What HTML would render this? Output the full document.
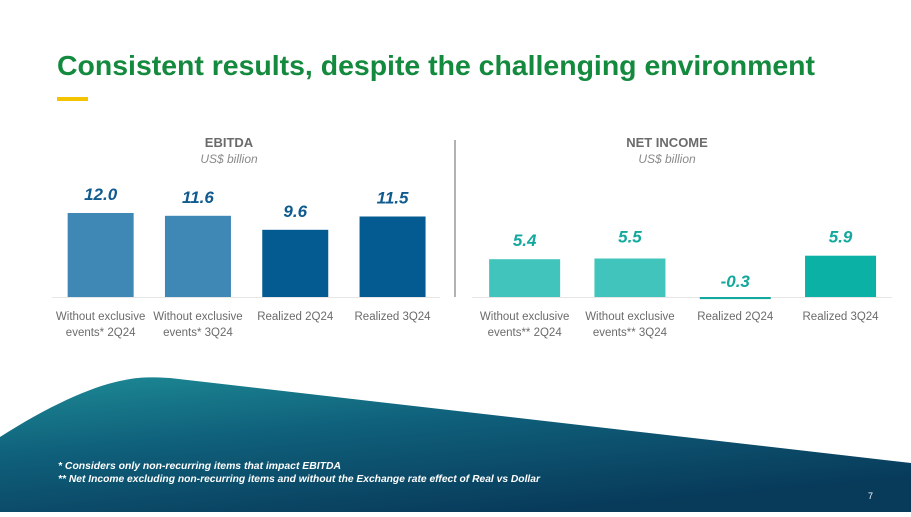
<!DOCTYPE html>
<html><head><meta charset="utf-8"><style>
body{margin:0;width:911px;height:512px;overflow:hidden;background:#fff;font-family:"Liberation Sans",sans-serif}
</style></head><body>
<svg width="911" height="512" viewBox="0 0 911 512" xmlns="http://www.w3.org/2000/svg">
<defs>
<linearGradient id="sea" x1="0" y1="0" x2="0.6" y2="1">
<stop offset="0" stop-color="#1d8a95"/><stop offset="0.45" stop-color="#0f5f7a"/><stop offset="1" stop-color="#083a5a"/>
</linearGradient>
</defs>
<path d="M0,437 C50,405 95,385 125,380 C140,377 150,377 170,378 L911,463 L911,512 L0,512 Z" fill="url(#sea)"/>
<text x="57" y="75" font-size="28" font-weight="bold" fill="#138a3e" textLength="758" lengthAdjust="spacingAndGlyphs">Consistent results, despite the challenging environment</text>
<rect x="57" y="97" width="31" height="4" fill="#f5c400"/>
<line x1="455" y1="140" x2="455" y2="297" stroke="#666" stroke-width="1"/>
<g id="c1"></g><g id="c2"></g>
<text x="58" y="469" font-size="10.5" font-style="italic" font-weight="bold" fill="#fff" textLength="283" lengthAdjust="spacingAndGlyphs">*  Considers only non-recurring items that impact  EBITDA</text>
<text x="58" y="482" font-size="10.5" font-style="italic" font-weight="bold" fill="#fff" textLength="482" lengthAdjust="spacingAndGlyphs">** Net Income excluding non-recurring items and without the Exchange rate effect of Real vs Dollar</text>
<text x="868" y="499" font-size="9" fill="#fff">7</text>
</svg>
<script>
const ebitdaCategories=[["Without exclusive","events* 2Q24"],["Without exclusive","events* 3Q24"],["Realized 2Q24"],["Realized 3Q24"]];
const ebitdaValues=[12.0,11.6,9.6,11.5];
const ebitdaLabels=["12.0","11.6","9.6","11.5"];
const niCategories=[["Without exclusive","events** 2Q24"],["Without exclusive","events** 3Q24"],["Realized 2Q24"],["Realized 3Q24"]];
const niValues=[5.4,5.5,-0.3,5.9];
const niLabels=["5.4","5.5","-0.3","5.9"];
const NS="http://www.w3.org/2000/svg";
function mk(t,a,p){const e=document.createElementNS(NS,t);for(const k in a)e.setAttribute(k,a[k]);p.appendChild(e);return e;}
function chart(g,opt){
  const scale=v=>opt.base-v*7;
  const t=mk("text",{x:opt.cx,y:147,"text-anchor":"middle","font-size":13,"font-weight":"bold",fill:"#6b6b6b"},g);t.textContent=opt.title;
  
  
  const s=mk("text",{x:opt.cx,y:163,"text-anchor":"middle","font-size":12,"font-style":"italic",fill:"#8a8a8a"},g);s.textContent="US$ billion";
  
  
  const ax=mk("line",{x1:opt.x0,x2:opt.x1,y1:opt.base+0.5,y2:opt.base+0.5,stroke:"#e6e6e6","stroke-width":1},g);
  
  
  opt.vals.forEach((v,i)=>{
    const cx=opt.x0+opt.step*(i+0.5);
    const y=Math.min(scale(v),opt.base), h=Math.max(Math.abs(scale(v)-opt.base),2);
    const r=mk("rect",{x:cx-opt.w/2,y:v<0?opt.base:y,width:opt.w,height:h,fill:opt.colors[i]},g);
    
    
    const ly=v<0?opt.base-10:scale(v)-(opt.lblOff[i]);
    const l=mk("text",{x:cx,y:ly,"text-anchor":"middle","font-size":17,"font-weight":"bold","font-style":"italic",fill:opt.lc},g);l.textContent=opt.labels[i];
    
    
    opt.cats[i].forEach((c,j)=>{
      const ct=mk("text",{x:cx,y:320+j*16,"text-anchor":"middle","font-size":11.5,fill:"#6b6b6b"},g);ct.textContent=c;
      
      
    });
  });
}
chart(document.getElementById("c1"),{title:"EBITDA",cx:229,x0:52,x1:440,step:97.3,w:66,base:297,vals:ebitdaValues,labels:ebitdaLabels,cats:ebitdaCategories,colors:["#3f87b4","#3f87b4","#045b91","#045b91"],lc:"#0f5a8f",lblOff:[13,13,13,13]});
chart(document.getElementById("c2"),{title:"NET INCOME",cx:667,x0:472,x1:892,step:105.3,w:71,base:297,vals:niValues,labels:niLabels,cats:niCategories,colors:["#40c4bc","#40c4bc","#14a99f","#0bb1a5"],lc:"#13a89d",lblOff:[13,16,0,13]});
</script>
</body></html>
